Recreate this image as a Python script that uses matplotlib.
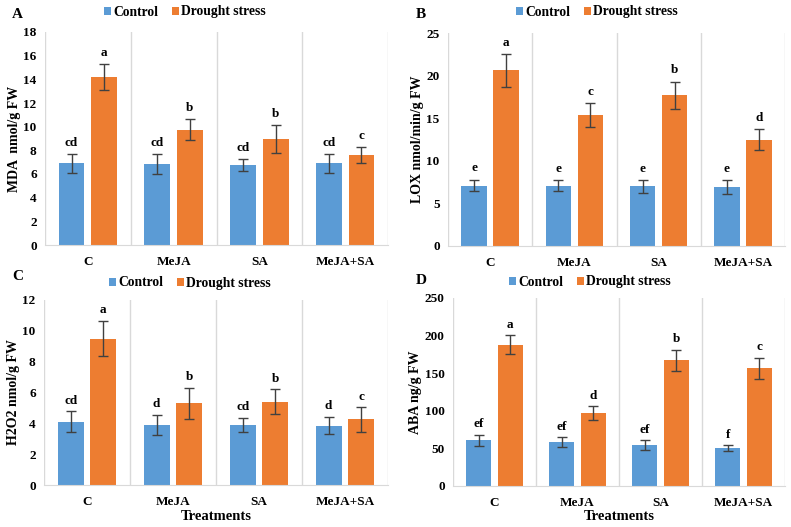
import matplotlib
matplotlib.use("Agg")
import matplotlib.pyplot as plt
from matplotlib.font_manager import FontProperties
import numpy as np

plt.rcParams['font.family'] = ['Liberation Serif', 'DejaVu Serif']
plt.rcParams['font.weight'] = 'bold'

categories = ["C", "MeJA", "SA", "MeJA+SA"]
series_names = ["Control", "Drought stress"]

# Panel A: MDA
mda_control = [6.9, 6.85, 6.75, 6.9]
mda_control_err = [0.8, 0.85, 0.5, 0.8]
mda_drought = [14.2, 9.75, 8.95, 7.6]
mda_drought_err = [1.1, 0.9, 1.15, 0.65]
mda_ctrl_letters = ["cd", "cd", "cd", "cd"]
mda_dr_letters = ["a", "b", "b", "c"]

# Panel B: LOX
lox_control = [7.1, 7.1, 7.0, 6.9]
lox_control_err = [0.7, 0.6, 0.75, 0.8]
lox_drought = [20.6, 15.4, 17.7, 12.5]
lox_drought_err = [1.9, 1.4, 1.6, 1.2]
lox_ctrl_letters = ["e", "e", "e", "e"]
lox_dr_letters = ["a", "c", "b", "d"]

# Panel C: H2O2
h2o2_control = [4.1, 3.9, 3.9, 3.85]
h2o2_control_err = [0.68, 0.67, 0.47, 0.57]
h2o2_drought = [9.5, 5.3, 5.4, 4.25]
h2o2_drought_err = [1.13, 1.0, 0.8, 0.8]
h2o2_ctrl_letters = ["cd", "d", "cd", "d"]
h2o2_dr_letters = ["a", "b", "b", "c"]

# Panel D: ABA
aba_control = [61, 58.5, 54.5, 50.5]
aba_control_err = [7.3, 6.0, 6.2, 3.5]
aba_drought = [188, 97, 167, 156.5]
aba_drought_err = [12.5, 9.0, 13.7, 14.0]
aba_ctrl_letters = ["ef", "ef", "ef", "f"]
aba_dr_letters = ["a", "d", "b", "c"]

BLUE = "#5B9BD5"
ORANGE = "#ED7D31"
GRID = "#D9D9D9"

W, H = 791, 527
fig = plt.figure(figsize=(W / 100, H / 100), dpi=100)


def px_axes(left, right, top, bottom):
    return fig.add_axes([left / W, (H - bottom) / H, (right - left) / W, (bottom - top) / H])


panels = [
    dict(box=(45, 388, 32, 245), ymax=18, step=2, ylabel="MDA  nmol/g FW",
         c=mda_control, ce=mda_control_err, d=mda_drought, de=mda_drought_err,
         cl=mda_ctrl_letters, dl=mda_dr_letters, letter="A", lpos=(12, 14),
         legx=185, legy=12, xlabel=None),
    dict(box=(448, 785, 33, 246), ymax=25, step=5, ylabel="LOX nmol/min/g FW",
         c=lox_control, ce=lox_control_err, d=lox_drought, de=lox_drought_err,
         cl=lox_ctrl_letters, dl=lox_dr_letters, letter="B", lpos=(416, 15),
         legx=597, legy=12, xlabel=None),
    dict(box=(44, 388, 300, 485), ymax=12, step=2, ylabel="H2O2 nmol/g FW",
         c=h2o2_control, ce=h2o2_control_err, d=h2o2_drought, de=h2o2_drought_err,
         cl=h2o2_ctrl_letters, dl=h2o2_dr_letters, letter="C", lpos=(12, 277),
         legx=190, legy=283, xlabel="Treatments"),
    dict(box=(453, 785, 298, 486), ymax=250, step=50, ylabel="ABA ng/g FW",
         c=aba_control, ce=aba_control_err, d=aba_drought, de=aba_drought_err,
         cl=aba_ctrl_letters, dl=aba_dr_letters, letter="D", lpos=(416, 280),
         legx=590, legy=282, xlabel="Treatments"),
]

x = np.arange(len(categories))
bw = 0.30
off = 0.19
legfont = FontProperties(family="Liberation Serif", weight="bold", size=9.8)

for p in panels:
    l, r, t, b = p["box"]
    ax = px_axes(l, r, t, b)
    b1 = ax.bar(x - off, p["c"], bw, color=BLUE, label=series_names[0], zorder=2)
    b2 = ax.bar(x + off, p["d"], bw, color=ORANGE, label=series_names[1], zorder=2)
    ax.errorbar(x - off, p["c"], yerr=p["ce"], fmt="none", ecolor="#404040",
                elinewidth=1, capsize=3.5, capthick=1, zorder=3)
    ax.errorbar(x + off, p["d"], yerr=p["de"], fmt="none", ecolor="#404040",
                elinewidth=1, capsize=3.5, capthick=1, zorder=3)
    pad = p["ymax"] * 0.025
    for i in range(len(categories)):
        ax.text(x[i] - off, p["c"][i] + p["ce"][i] + pad, p["cl"][i], ha="center",
                va="bottom", fontsize=9.5, fontweight="bold")
        ax.text(x[i] + off, p["d"][i] + p["de"][i] + pad, p["dl"][i], ha="center",
                va="bottom", fontsize=9.5, fontweight="bold")
    ax.set_xlim(-0.5, len(categories) - 0.5)
    ax.set_ylim(0, p["ymax"])
    ax.set_yticks(np.arange(0, p["ymax"] + p["step"] / 2, p["step"]))
    ax.set_xticks(x)
    ax.set_xticklabels(categories, fontsize=9.5, fontweight="bold")
    ax.tick_params(axis="both", length=0, labelsize=9.5, pad=6)
    ax.tick_params(axis="x", pad=8)
    for lab in ax.get_yticklabels():
        lab.set_fontweight("bold")
    for s in ["top", "right", "left"]:
        ax.spines[s].set_visible(False)
    ax.spines["bottom"].set_color(GRID)
    for xv in np.arange(-0.5, len(categories), 1.0):
        ax.axvline(xv, color=GRID, lw=1, zorder=1)
    ax.set_ylabel(p["ylabel"], fontsize=10, fontweight="bold", labelpad=2)
    if p["xlabel"]:
        ax.set_xlabel(p["xlabel"], fontsize=10.5, fontweight="bold", labelpad=1)
    fig.text(p["lpos"][0] / W, 1 - p["lpos"][1] / H, p["letter"], fontsize=11,
             fontweight="bold", ha="left", va="center")
    fig.legend(handles=[b1, b2], labels=series_names, loc="center",
               bbox_to_anchor=(p["legx"] / W, 1 - p["legy"] / H), ncol=2,
               frameon=False, handlelength=0.55, handleheight=0.55,
               handletextpad=0.15, columnspacing=1.0, borderpad=0,
               prop=legfont)

fig.savefig("out.png", dpi=100, facecolor="white")
